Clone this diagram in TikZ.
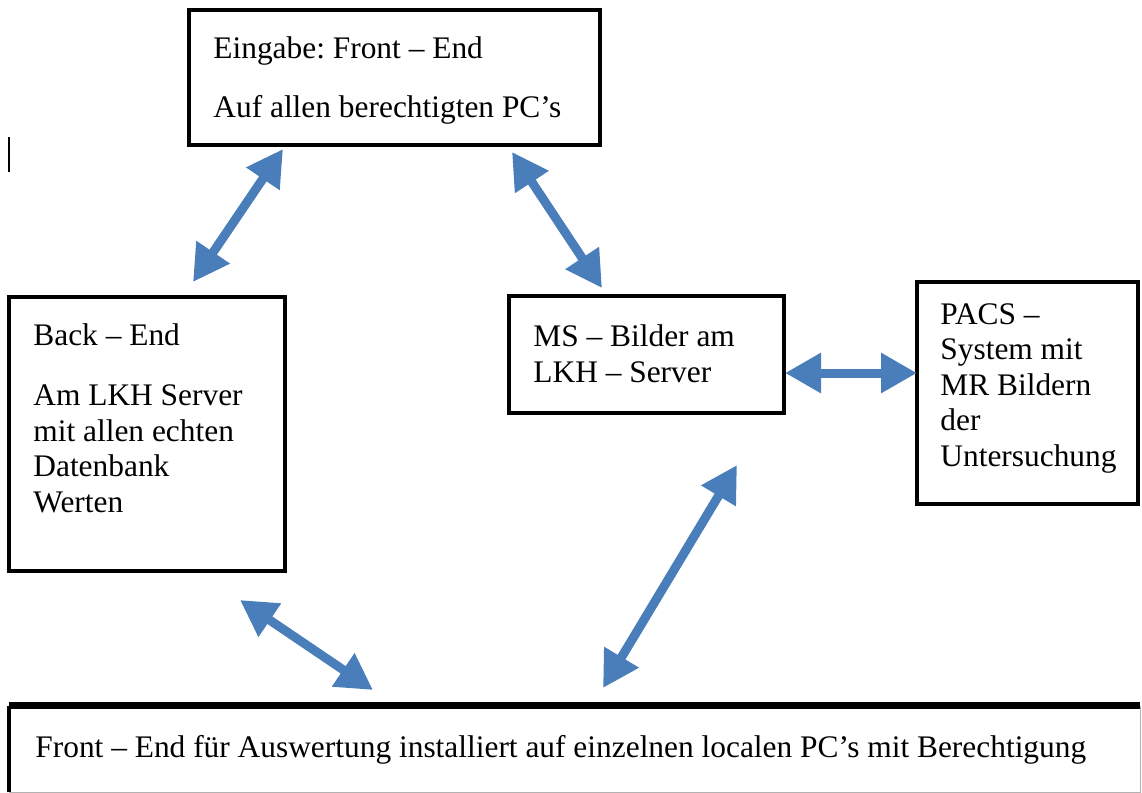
\documentclass[tikz,border=0pt]{standalone}
\usepackage{fontspec}
\setmainfont{Liberation Serif}
\usepackage{tikz}
\usetikzlibrary{arrows.meta, positioning, fit}
\definecolor{linkblue}{HTML}{4A7EBB}
\frenchspacing
\tikzset{
  box/.style={draw=black, line width=2pt, inner sep=0pt},
  label/.style={anchor=base west, inner sep=0pt, align=left, font=\fontsize{15.7}{17.75}\selectfont},
  link/.style={linkblue, line width=4.5pt, {Triangle[length=18pt,width=19pt]}-{Triangle[length=18pt,width=19pt]},
    preaction={draw=black!30, opacity=.45, transform canvas={xshift=1.5pt,yshift=-1.5pt}}},
}
\begin{document}
\begin{tikzpicture}[x=0.5pt,y=-0.5pt]

            \useasboundingbox (0,0) rectangle (1142,793);

            % Kaesten
            \node[box, fit={(189,10) (600,145)}] (input) {};
            \node[box, fit={(9,297) (285,571)}] (backend) {};
            \node[box, fit={(509,296) (784,413)}] (msbox) {};
            \node[box, fit={(917,282) (1138,504)}] (pacs) {};
            \node[inner sep=0pt, fit={(9,706) (1140,792)}] (frontend) {};
            \draw[line width=2pt] (frontend.south west) -- (frontend.north west);
            \draw[line width=3.5pt] (frontend.north west) -- (frontend.north east);
            \draw[gray!60, line width=0.8pt] (frontend.north east) -- (frontend.south east) -- (frontend.south west);

            % Texte (Grundlinie der letzten Zeile)
            \node[label] (t1) at (213,58) {Eingabe: Front -- End};
            \node[label] (t2) at (213,117) {Auf allen berechtigten PC’s};
            \node[label] (t3) at (33,345) {Back -- End};
            \node[label] (t4) at (33,512) {Am LKH Server\\mit allen echten\\Datenbank\\Werten};
            \node[label] (t5) at (533,382) {MS -- Bilder am\\LKH -- Server};
            \node[label] (t6) at (940,466) {PACS --\\System mit\\MR Bildern\\der\\Untersuchung};
            \node[label] (t7) at (35,757) {Front -- End für Auswertung installiert auf einzelnen localen PC’s mit Berechtigung};

            % Pfeilenden
            \coordinate (a1) at (193,282); \coordinate (b1) at (283,149);
            \coordinate (a2) at (512,152); \coordinate (b2) at (602,288);
            \coordinate (a3) at (785,373); \coordinate (b3) at (917,373);
            \coordinate (a4) at (603,688); \coordinate (b4) at (737,465);
            \coordinate (a5) at (240,600); \coordinate (b5) at (373,690);

            % Doppelpfeile
            \foreach \i in {1,...,5}
              \draw[link] (a\i) -- (b\i);

            % Cursor links
            \draw[line width=1pt] (9,137) -- (9,172);

\end{tikzpicture}
\end{document}
